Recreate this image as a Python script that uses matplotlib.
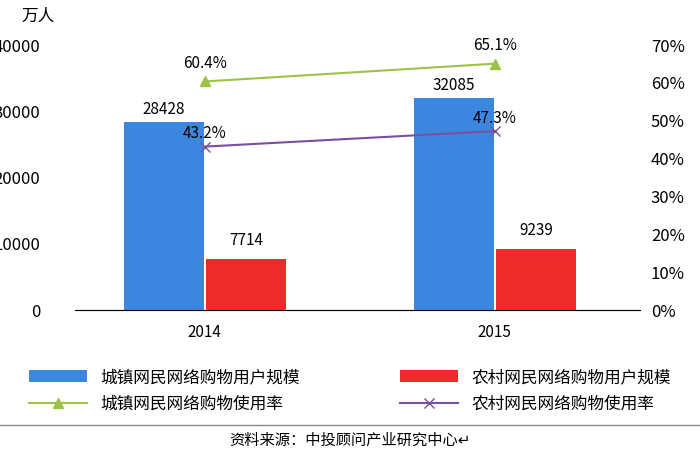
import matplotlib.pyplot as plt
import numpy as np

plt.rcParams['font.family'] = ['Noto Sans CJK SC', 'DejaVu Sans']

years = ['2014', '2015']
urban_users = [28428, 32085]
rural_users = [7714, 9239]
urban_rate = [0.604, 0.651]
rural_rate = [0.432, 0.473]

fig = plt.figure(figsize=(7, 4.7), dpi=100)
ax = fig.add_axes([0.107, 0.34, 0.807, 0.564])
ax2 = ax.twinx()

x = np.arange(len(years))
w = 0.276
b1 = ax.bar(x - 0.142, urban_users, w, color='#3c86e0', label='城镇网民网络购物用户规模')
b2 = ax.bar(x + 0.142, rural_users, w, color='#ee2a2a', label='农村网民网络购物用户规模')
for xi, v in zip(x, urban_users):
    ax.text(xi - 0.142, v + 600, str(v), ha='center', va='bottom', fontsize=11)
for xi, v in zip(x, rural_users):
    ax.text(xi + 0.142, v + 1500, str(v), ha='center', va='bottom', fontsize=11)

l1, = ax2.plot(x, urban_rate, color='#9bc444', marker='^', markersize=7, lw=1.5,
               label='城镇网民网络购物使用率')
l2, = ax2.plot(x, rural_rate, color='#7a4fa0', marker='x', markersize=7, lw=1.5,
               label='农村网民网络购物使用率')
for xi, v in zip(x, urban_rate):
    ax2.text(xi, v + 0.025, f'{v*100:.1f}%', ha='center', va='bottom', fontsize=11)
for xi, v in zip(x, rural_rate):
    ax2.text(xi, v + 0.012, f'{v*100:.1f}%', ha='center', va='bottom', fontsize=11)

ax.set_xlim(-0.448, 1.5)
ax.set_ylim(0, 40000)
ax.set_yticks([0, 10000, 20000, 30000, 40000])
ax2.set_ylim(0, 0.7)
ax2.set_yticks(np.arange(0, 0.71, 0.1))
ax2.set_yticklabels([f'{int(round(t*100))}%' for t in np.arange(0, 0.71, 0.1)])
ax.set_xticks(x)
ax.set_xticklabels(years)
for a in (ax, ax2):
    for s in ('left', 'right', 'top'):
        a.spines[s].set_visible(False)
    a.tick_params(length=0, labelsize=12, pad=8)
ax.tick_params(axis='y', pad=25)
ax.spines['bottom'].set_color('#999999')
ax.tick_params(axis='x', labelsize=11, pad=10)

fig.text(0.03, 0.965, '万人', fontsize=12, va='center')

fig.legend([b1, l1, b2, l2], [b1.get_label(), l1.get_label(), b2.get_label(), l2.get_label()],
           ncol=2, loc='center', bbox_to_anchor=(0.5, 0.168), frameon=False,
           fontsize=12, columnspacing=6, handlelength=3.5, labelspacing=0.6)
fig.add_artist(plt.Line2D([0, 1], [0.096, 0.096], color='#888888', lw=1))
fig.text(0.5, 0.063, '资料来源：中投顾问产业研究中心↵', ha='center', va='center', fontsize=11)

fig.savefig('out.png')
